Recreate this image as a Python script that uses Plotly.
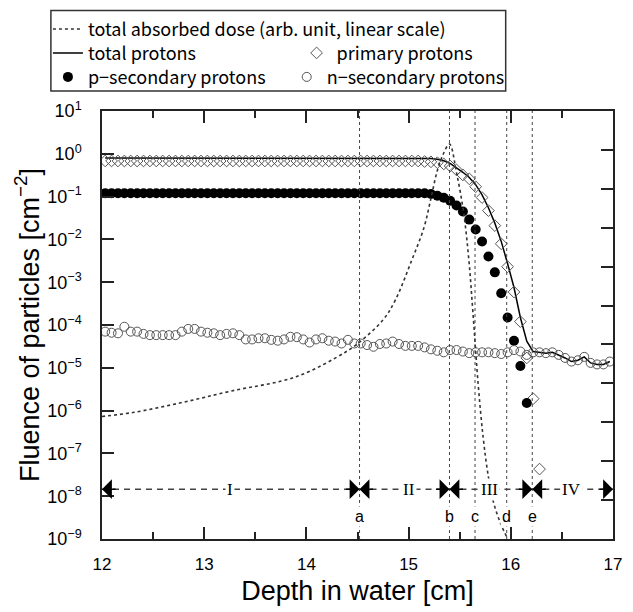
import plotly.graph_objects as go

# ---------------- data ----------------
depth = [round(12.03125 + 0.0625 * i, 5) for i in range(80)]  # bin centres (cm)

total_protons = [
    0.80, 0.80, 0.80, 0.80, 0.80, 0.80, 0.80, 0.80, 0.80, 0.80,
    0.80, 0.80, 0.80, 0.80, 0.80, 0.80, 0.80, 0.80, 0.80, 0.80,
    0.80, 0.80, 0.80, 0.80, 0.80, 0.80, 0.80, 0.80, 0.80, 0.80,
    0.80, 0.80, 0.80, 0.80, 0.80, 0.80, 0.80, 0.80, 0.80, 0.80,
    0.80, 0.80, 0.80, 0.80, 0.80, 0.80, 0.80, 0.80, 0.80, 0.80,
    0.80, 0.78, 0.75, 0.69, 0.60, 0.48, 0.37, 0.28, 0.19, 0.11,
    0.055, 0.024, 0.0090, 0.0027, 7.5e-4, 1.5e-4, 4.2e-5, 2.4e-5, 2.3e-5, 2.2e-5,
    2.3e-5, 2.0e-5, 1.7e-5, 1.4e-5, 1.5e-5, 1.8e-5, 1.3e-5, 1.2e-5, 1.2e-5, 1.4e-5,
]

primary_protons = [
    0.68, 0.68, 0.68, 0.68, 0.68, 0.68, 0.68, 0.68, 0.68, 0.68,
    0.68, 0.68, 0.68, 0.68, 0.68, 0.68, 0.68, 0.68, 0.68, 0.68,
    0.68, 0.68, 0.68, 0.68, 0.68, 0.68, 0.68, 0.68, 0.68, 0.68,
    0.68, 0.68, 0.68, 0.68, 0.68, 0.68, 0.68, 0.68, 0.68, 0.68,
    0.68, 0.68, 0.68, 0.68, 0.68, 0.68, 0.68, 0.68, 0.68, 0.68,
    0.66, 0.65, 0.62, 0.58, 0.52, 0.42, 0.32, 0.26, 0.17, 0.095,
    0.047, 0.021, 0.0079, 0.0023, 5.9e-4, 1.2e-4, 1.7e-5, 1.9e-6, 4.3e-8,
]

p_secondary = [
    0.12, 0.12, 0.12, 0.12, 0.12, 0.12, 0.12, 0.12, 0.12, 0.12,
    0.12, 0.12, 0.12, 0.12, 0.12, 0.12, 0.12, 0.12, 0.12, 0.12,
    0.12, 0.12, 0.12, 0.12, 0.12, 0.12, 0.12, 0.12, 0.12, 0.12,
    0.12, 0.12, 0.12, 0.12, 0.12, 0.12, 0.12, 0.12, 0.12, 0.12,
    0.12, 0.12, 0.12, 0.12, 0.12, 0.12, 0.12, 0.12, 0.12, 0.12,
    0.12, 0.115, 0.105, 0.094, 0.080, 0.062, 0.045, 0.029, 0.017, 0.0089,
    0.0040, 0.0017, 5.5e-4, 1.5e-4, 4.3e-5, 1.1e-5, 1.5e-6,
]

n_secondary = [
    7.0e-5, 6.6e-5, 6.4e-5, 9.1e-5, 7.0e-5, 7.0e-5, 6.2e-5, 5.8e-5, 5.8e-5, 5.8e-5,
    5.8e-5, 5.8e-5, 7.0e-5, 8.1e-5, 8.1e-5, 7.0e-5, 6.6e-5, 6.4e-5, 5.8e-5, 6.2e-5,
    6.4e-5, 5.8e-5, 4.6e-5, 4.6e-5, 4.9e-5, 4.9e-5, 4.5e-5, 4.3e-5, 4.6e-5, 5.3e-5,
    5.2e-5, 4.6e-5, 3.9e-5, 4.6e-5, 4.9e-5, 4.3e-5, 4.1e-5, 3.7e-5, 4.5e-5, 3.7e-5,
    3.7e-5, 3.4e-5, 3.1e-5, 3.6e-5, 3.7e-5, 4.1e-5, 3.6e-5, 3.25e-5, 3.25e-5, 3.25e-5,
    3.0e-5, 2.7e-5, 2.5e-5, 2.3e-5, 2.6e-5, 2.6e-5, 2.4e-5, 2.2e-5, 2.3e-5, 2.3e-5,
    2.3e-5, 2.2e-5, 2.1e-5, 2.3e-5, 2.6e-5, 2.4e-5, 2.0e-5, 2.3e-5, 2.3e-5, 2.2e-5,
    2.3e-5, 2.0e-5, 1.7e-5, 1.4e-5, 1.5e-5, 1.8e-5, 1.3e-5, 1.2e-5, 1.2e-5, 1.4e-5,
]

# total absorbed dose, relative, linear scale
dose_depth = [12.0, 12.3, 12.77, 13.26, 13.9, 14.38, 14.52, 14.75, 14.87, 15.03,
              15.15, 15.22, 15.28, 15.34, 15.40, 15.47, 15.54, 15.59, 15.63, 15.68,
              15.73, 15.78, 15.83, 15.90, 15.97]
dose_value = [0.315, 0.325, 0.35, 0.38, 0.417, 0.48, 0.506, 0.563, 0.614, 0.716,
              0.80, 0.877, 0.946, 0.99, 1.015, 0.94, 0.836, 0.716, 0.58, 0.40,
              0.26, 0.161, 0.095, 0.04, 0.0]

boundary_names = ["a", "b", "c", "d", "e"]
boundary_depth = [14.52, 15.40, 15.65, 15.96, 16.21]

region_names = ["I", "II", "III", "IV"]
region_label_x = [13.25, 15.0, 15.79, 16.59]
region_limits = [(12.0, 14.52), (14.52, 15.40), (15.40, 16.21), (16.21, 17.0)]

y_tickvals = [1e-9, 1e-8, 1e-7, 1e-6, 1e-5, 1e-4, 1e-3, 1e-2, 1e-1, 1e0, 1e1]
y_ticktext = ["10<sup>−9</sup>", "10<sup>−8</sup>", "10<sup>−7</sup>", "10<sup>−6</sup>",
              "10<sup>−5</sup>", "10<sup>−4</sup>", "10<sup>−3</sup>", "10<sup>−2</sup>",
              "10<sup>−1</sup>", "10<sup>0</sup>", "10<sup>1</sup>"]

# ---------------- figure ----------------
FONT = "Liberation Sans"
LFONT = "Noto Sans CJK JP"
fig = go.Figure()

fig.add_trace(go.Scatter(
    x=dose_depth, y=dose_value, yaxis="y2", mode="lines",
    line=dict(color="#333", width=1.6, dash="3px,3px", shape="spline"),
    name="total absorbed dose (arb. unit, linear scale)", legend="legend"))

fig.add_trace(go.Scatter(
    x=depth, y=total_protons, mode="lines",
    line=dict(color="black", width=1.5),
    name="total protons", legend="legend2"))

fig.add_trace(go.Scatter(
    x=depth[:len(primary_protons)], y=primary_protons, mode="markers",
    marker=dict(symbol="diamond-open", size=9, color="#555", line=dict(width=1)),
    name="primary protons", legend="legend3"))

fig.add_trace(go.Scatter(
    x=depth[:len(p_secondary)], y=p_secondary, mode="markers",
    marker=dict(symbol="circle", size=10, color="black"),
    name="p−secondary protons", legend="legend4"))

fig.add_trace(go.Scatter(
    x=depth, y=n_secondary, mode="markers",
    marker=dict(symbol="circle-open", size=9, color="#555", line=dict(width=1)),
    name="n−secondary protons", legend="legend5"))

shapes = []
annotations = []
ARROW_Y = 0.128
LETTER_Y = 0.059

for name, xb in zip(boundary_names, boundary_depth):
    shapes.append(dict(type="line", xref="x", yref="paper", x0=xb, x1=xb, y0=0, y1=1,
                       line=dict(color="#444", width=1, dash="dot")))
    annotations.append(dict(x=xb, y=LETTER_Y, xref="x", yref="y2", text=name,
                            showarrow=False, bgcolor="white",
                            font=dict(family=FONT, size=16, color="black")))

for (x0, x1) in region_limits:
    shapes.append(dict(type="line", xref="x", yref="y2", x0=x0, x1=x1,
                       y0=ARROW_Y, y1=ARROW_Y,
                       line=dict(color="#444", width=1.5, dash="6px,5px")))
    for tip, off in ((x0, 15), (x1, -15)):
        annotations.append(dict(x=tip, y=ARROW_Y, xref="x", yref="y2", text="",
                                showarrow=True, ax=off, ay=0, arrowhead=1,
                                arrowsize=2.2, arrowwidth=1.5, arrowcolor="black",
                                standoff=0))

for name, xl in zip(region_names, region_label_x):
    annotations.append(dict(x=xl, y=ARROW_Y, xref="x", yref="y2", text=name,
                            showarrow=False, bgcolor="white",
                            font=dict(family="Liberation Serif", size=17, color="black")))

# legend box
shapes.append(dict(type="rect", xref="paper", yref="paper",
                   x0=-0.1, x1=0.79, y0=1.0465, y1=1.235,
                   line=dict(color="#333", width=1.5), fillcolor="rgba(0,0,0,0)"))

def leg(xp, yp):
    return dict(x=xp, y=yp, xanchor="left", yanchor="middle", orientation="h",
                bgcolor="rgba(0,0,0,0)", font=dict(family=LFONT, size=18),
                itemwidth=30)

ROW1, ROW2, ROW3 = 1.191, 1.135, 1.079

fig.update_layout(
    width=633, height=612, autosize=False, showlegend=True,
    margin=dict(l=102, r=11, t=110, b=72),
    paper_bgcolor="white", plot_bgcolor="white",
    font=dict(family=FONT, size=18, color="black"),
    shapes=shapes, annotations=annotations,
    xaxis=dict(range=[12, 17], dtick=1, tick0=12, ticks="inside", ticklen=12,
               tickwidth=1.5, tickcolor="#222", ticklabelstandoff=9,
               minor=dict(dtick=0.5, ticks="inside", ticklen=7, tickwidth=1.5, tickcolor="#222"),
               showline=True, linecolor="#222", linewidth=1.5, mirror="ticks",
               showgrid=False, zeroline=False,
               tickfont=dict(family=FONT, size=17),
               title=dict(text="Depth in water [cm]", font=dict(family=FONT, size=27), standoff=8)),
    yaxis=dict(type="log", range=[-9, 1], tickvals=y_tickvals, ticktext=y_ticktext,
               ticks="inside", ticklen=12, tickwidth=1.5, tickcolor="#222",
               showline=True, linecolor="#222", linewidth=1.5, mirror=True,
               showgrid=False, zeroline=False, ticklabelstandoff=15,
               tickfont=dict(family=FONT, size=18),
               title=dict(text="Fluence of particles [cm<sup>−2</sup>]",
                          font=dict(family=FONT, size=27), standoff=0)),
    yaxis2=dict(overlaying="y", side="right", range=[0, 1.1], dtick=0.1,
                ticks="inside", ticklen=12, tickwidth=1.5, tickcolor="#222",
                showticklabels=False, showgrid=False, zeroline=False, showline=False),
    legend=leg(-0.1058, ROW1),
    legend2=leg(-0.1058, ROW2),
    legend3=leg(0.3808, ROW2),
    legend4=leg(-0.1058, ROW3),
    legend5=leg(0.3615, ROW3),
)

fig.write_html("out.html")
